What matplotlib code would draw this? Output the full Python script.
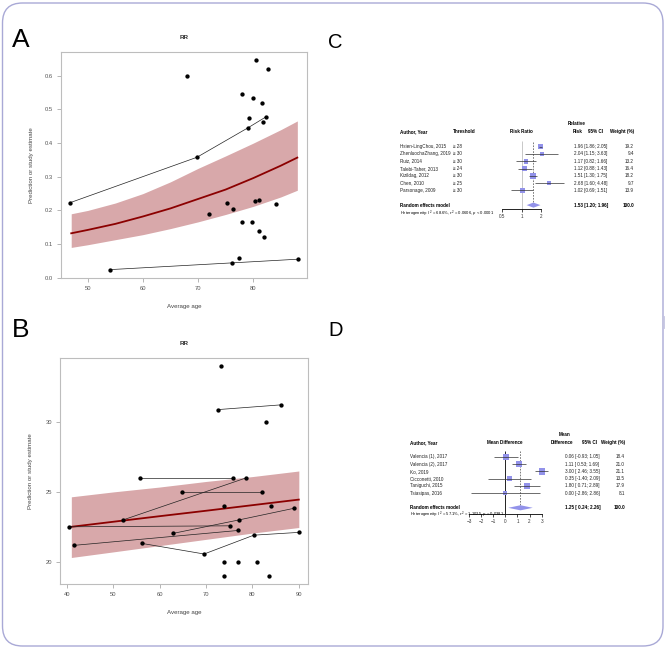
import matplotlib
matplotlib.use("Agg")
import matplotlib.pyplot as plt
import numpy as np
from matplotlib.patches import FancyBboxPatch
from matplotlib.ticker import FormatStrFormatter
from matplotlib.transforms import blended_transform_factory

plt.rcParams["font.family"] = ["Liberation Sans", "DejaVu Sans"]
plt.rcParams["mathtext.fontset"] = "custom"
plt.rcParams["mathtext.rm"] = "Liberation Sans"
plt.rcParams["mathtext.it"] = "Liberation Sans:italic"

# ---- panel A: meta-regression, proportion vs average age ----
a_age = [46.8, 69.8, 68.0, 80.5, 82.6, 78.0, 80.0, 81.6, 79.2, 82.3, 79.1, 81.8, 75.3,
         72.0, 76.3, 80.4, 81.1, 84.1, 78.0, 79.8, 81.0, 81.9, 77.4, 76.1, 88.1, 54.0]
a_est = [0.223, 0.358, 0.601, 0.646, 0.620, 0.545, 0.535, 0.519, 0.474, 0.478, 0.446, 0.464, 0.223,
         0.190, 0.204, 0.227, 0.230, 0.219, 0.167, 0.165, 0.140, 0.121, 0.060, 0.044, 0.055, 0.024]
a_links = [[0, 1, 10, 9], [25, 23, 24]]
a_grid = [47, 50, 55, 60, 65, 70, 75, 80, 85, 88]
a_pred = [0.132, 0.142, 0.160, 0.182, 0.206, 0.234, 0.262, 0.296, 0.333, 0.357]
a_lo = [0.090, 0.098, 0.113, 0.128, 0.146, 0.166, 0.188, 0.212, 0.240, 0.260]
a_hi = [0.190, 0.200, 0.222, 0.250, 0.285, 0.325, 0.362, 0.400, 0.440, 0.466]

# ---- panel B: meta-regression, continuous outcome vs average age ----
b_age = [73.2, 72.5, 86.1, 82.9, 55.8, 75.9, 78.6, 64.8, 82.0, 73.9, 84.1, 52.2, 77.2, 89.0,
         40.6, 75.1, 62.8, 77.0, 41.6, 56.2, 69.6, 80.3, 90.0, 73.9, 76.9, 80.9, 73.9, 83.6]
b_est = [34.0, 30.9, 31.24, 30.0, 26.0, 26.0, 26.0, 25.0, 25.0, 24.0, 24.0, 23.0, 23.0, 23.83,
         22.5, 22.57, 22.02, 22.24, 21.17, 21.31, 20.55, 21.9, 22.1, 20.0, 20.0, 20.0, 19.0, 19.0]
b_links = [[1, 2], [4, 5], [11, 6], [7, 8], [14, 15], [16, 12, 13], [18, 17], [19, 20, 21, 22]]
b_grid = [41, 50, 60, 70, 80, 90]
b_pred = [22.50, 22.86, 23.26, 23.65, 24.05, 24.45]
b_lo = [20.30, 20.70, 21.15, 21.60, 22.05, 22.45]
b_hi = [24.65, 25.00, 25.35, 25.75, 26.10, 26.50]

# ---- panel C: forest plot, risk ratio ----
c_study = ["Hsien-LingChou, 2015", "ZhenluochaZhang, 2019", "Ruiz, 2014", "Talebi-Taher, 2013",
           "Kizildag, 2012", "Chen, 2010", "Parsonage, 2009"]
c_thresh = ["≥ 28", "≥ 30", "≥ 30", "≥ 24", "≥ 30", "≥ 25", "≥ 30"]
c_rr = [1.96, 2.04, 1.17, 1.12, 1.51, 2.68, 1.02]
c_lo = [1.86, 1.15, 0.82, 0.88, 1.30, 1.60, 0.69]
c_hi = [2.05, 3.63, 1.66, 1.43, 1.75, 4.48, 1.51]
c_w = [19.2, 9.4, 13.2, 16.4, 18.2, 9.7, 13.9]
c_pool = (1.53, 1.20, 1.96)
c_het = r"Heterogeneity: $I^2$ = 68.6%, $\tau^2$ = 0.0606, $p$ < 0.0001"

# ---- panel D: forest plot, mean difference ----
d_study = ["Valencia (1), 2017", "Valencia (2), 2017", "Ko, 2019", "Cicconetti, 2010",
           "Taniguchi, 2015", "Tsiasipas, 2016"]
d_md = [0.06, 1.11, 3.00, 0.35, 1.80, 0.00]
d_lo = [-0.93, 0.53, 2.46, -1.40, 0.71, -2.86]
d_hi = [1.05, 1.69, 3.55, 2.09, 2.89, 2.86]
d_w = [18.4, 21.0, 21.1, 13.5, 17.9, 8.1]
d_pool = (1.25, 0.24, 2.26)
d_het = r"Heterogeneity: $I^2$ = 57.1%, $\tau^2$ = 1.1025, $p$ = 0.0381"

W, H = 666, 648
fig = plt.figure(figsize=(W / 100, H / 100), dpi=100)

# rounded frame around the whole figure
fig.add_artist(FancyBboxPatch((0.025, 0.02), 6.605, 6.43,
                              boxstyle="round,pad=0,rounding_size=0.2",
                              transform=fig.dpi_scale_trans, fill=False,
                              edgecolor="#a9a9d6", lw=1.0))
fig.add_artist(plt.Line2D([663 / W, 663 / W], [1 - 317 / H, 1 - 327 / H],
                          color="#c4c4e0", lw=2.0))


def regplot(ax, age, est, links, grid, pred, lo, hi, yticks, xticks, fmt=None):
    ax.fill_between(grid, lo, hi, color="#d8a8aa", lw=0, zorder=1)
    ax.plot(grid, pred, color="#8b0000", lw=1.3, zorder=2)
    for grp in links:
        ax.plot([age[i] for i in grp], [est[i] for i in grp], color="#222222", lw=0.5, zorder=3)
    ax.plot(age, est, "o", color="black", ms=2.1, zorder=4)
    ax.margins(0.04)
    ax.set_xticks(xticks)
    ax.set_yticks(yticks)
    if fmt:
        ax.yaxis.set_major_formatter(FormatStrFormatter(fmt))
    for s in ax.spines.values():
        s.set_color("#bdbdbd")
        s.set_linewidth(0.8)
    ax.tick_params(length=3, width=0.5, color="#999999", labelcolor="#555555",
                   labelsize=4.2, pad=2.5)
    ax.set_xlabel("Average age", fontsize=4.4, color="#444444")
    ax.set_ylabel("Prediction or study estimate", fontsize=4.4, color="#444444")
    ax.xaxis.set_label_coords(0.5, -0.115)
    ax.yaxis.set_label_coords(-0.11, 0.5)
    ax.text(0.5, 1.066, "RR", transform=ax.transAxes, ha="center", va="center",
            fontsize=4.6, fontweight="bold", color="#333333")


axA = fig.add_axes([61 / W, 1 - 278 / H, 246 / W, 226 / H])
regplot(axA, a_age, a_est, a_links, a_grid, a_pred, a_lo, a_hi,
        np.arange(0, 0.61, 0.1), [50, 60, 70, 80], "%.1f")

axB = fig.add_axes([60.3 / W, 1 - 584 / H, 247.7 / W, 226 / H])
regplot(axB, b_age, b_est, b_links, b_grid, b_pred, b_lo, b_hi,
        [20, 25, 30], [40, 50, 60, 70, 80, 90])

# panel letters
fig.text(12 / W, 1 - 47 / H, "A", fontsize=19, va="baseline")
fig.text(12 / W, 1 - 337 / H, "B", fontsize=19, va="baseline")
fig.text(328 / W, 1 - 48 / H, "C", fontsize=14.5, va="baseline")
fig.text(328 / W, 1 - 336 / H, "D", fontsize=14.5, va="baseline")

SQ = "#9292ea"
FS = 3.35


def forest(ax, rows, est, lo, hi, w, pool, pool_row, ref, refcolor, sq_k):
    ax.vlines(ref, ax.get_ylim()[0], 0.8, color=refcolor, lw=0.7, zorder=1)
    ax.vlines(pool[0], pool_row + 0.4, 0.8, color="#666666", lw=0.6,
              linestyles=(0, (2, 1.5)), zorder=1)
    ax.scatter(est, rows, marker="s", s=np.array(w) * sq_k, color=SQ,
               edgecolors="none", zorder=2, clip_on=False)
    ax.hlines(rows, lo, hi, color="#333333", lw=0.5, zorder=3, clip_on=False)
    ax.fill([pool[1], pool[0], pool[2], pool[0]],
            [pool_row, pool_row + 0.35, pool_row, pool_row - 0.35],
            color=SQ, lw=0, zorder=2, clip_on=False)
    for s in ["left", "right", "top"]:
        ax.spines[s].set_visible(False)
    ax.spines["bottom"].set_linewidth(0.6)
    ax.patch.set_alpha(0)
    ax.set_yticks([])
    ax.tick_params(axis="x", length=2, width=0.5, labelsize=FS, pad=1.5, labelcolor="#333333")


# ---- C ----
axC = fig.add_axes([502 / W, 1 - 209.5 / H, 39 / W, 88.5 / H])
axC.set_xscale("log")
axC.set_xlim(0.5, 2)
axC.set_ylim(-8.6, 3.5)
c_rows = -np.arange(len(c_study))
forest(axC, c_rows, c_rr, c_lo, c_hi, c_w, c_pool, -8, 1, "#c8c8c8", 0.9)
axC.set_xticks([0.5, 1, 2])
axC.set_xticklabels(["0.5", "1", "2"])
axC.minorticks_off()
tC = blended_transform_factory(fig.transFigure, axC.transData)
hdr = dict(fontsize=FS, fontweight="bold", transform=tC, va="center")
axC.text(400 / W, 2, "Author, Year", ha="left", **hdr)
axC.text(453 / W, 2, "Threshold", ha="left", **hdr)
axC.text(521 / W, 2, "Risk Ratio", ha="center", **hdr)
axC.text(577 / W, 3.1, "Relative", ha="center", **hdr)
axC.text(578 / W, 2, "Risk", ha="center", **hdr)
axC.text(596 / W, 2, "95% CI", ha="center", **hdr)
axC.text(634 / W, 2, "Weight (%)", ha="right", **hdr)
txt = dict(fontsize=FS, transform=tC, va="center", color="#222222")
for r, name, th, e, l, h, wt in zip(c_rows, c_study, c_thresh, c_rr, c_lo, c_hi, c_w):
    axC.text(400 / W, r, name, ha="left", **txt)
    axC.text(453 / W, r, th, ha="left", **txt)
    axC.text(574 / W, r, f"{e:.2f} [{l:.2f}; {h:.2f}]", ha="left", **txt)
    axC.text(634 / W, r, f"{wt:.1f}", ha="right", **txt)
axC.text(400 / W, -8, "Random effects model", ha="left", **hdr)
axC.text(574 / W, -8, f"{c_pool[0]:.2f} [{c_pool[1]:.2f}; {c_pool[2]:.2f}]", ha="left", **hdr)
axC.text(634 / W, -8, f"{sum(c_w):.1f}", ha="right", **hdr)
axC.text(400 / W, -9.15, c_het, ha="left", fontsize=3.0, transform=tC, va="center")

# ---- D ----
axD = fig.add_axes([469 / W, 1 - 514 / H, 72.7 / W, 82.8 / H])
axD.set_xlim(-3, 3)
axD.set_ylim(-7.85, 3.5)
d_rows = -np.arange(len(d_study))
forest(axD, d_rows, d_md, d_lo, d_hi, d_w, d_pool, -7, 0, "#222222", 1.0)
axD.set_xticks(range(-3, 4))
tD = blended_transform_factory(fig.transFigure, axD.transData)
hdr["transform"] = tD
txt["transform"] = tD
axD.text(410 / W, 2, "Author, Year", ha="left", **hdr)
axD.text(505 / W, 2, "Mean Difference", ha="center", **hdr)
axD.text(565 / W, 3.1, "Mean", ha="center", **hdr)
axD.text(562 / W, 2, "Difference", ha="center", **hdr)
axD.text(590 / W, 2, "95% CI", ha="center", **hdr)
axD.text(625 / W, 2, "Weight (%)", ha="right", **hdr)
for r, name, e, l, h, wt in zip(d_rows, d_study, d_md, d_lo, d_hi, d_w):
    axD.text(410 / W, r, name, ha="left", **txt)
    axD.text(565 / W, r, f"{e:.2f} [{l:5.2f}; {h:.2f}]", ha="left", **txt)
    axD.text(625 / W, r, f"{wt:.1f}", ha="right", **txt)
axD.text(410 / W, -7, "Random effects model", ha="left", **hdr)
axD.text(565 / W, -7, f"{d_pool[0]:.2f} [{d_pool[1]:5.2f}; {d_pool[2]:.2f}]", ha="left", **hdr)
axD.text(625 / W, -7, f"{sum(d_w):.1f}", ha="right", **hdr)
axD.text(410 / W, -8.0, d_het, ha="left", fontsize=3.0, transform=tD, va="center")

fig.savefig("out.png", dpi=100)
